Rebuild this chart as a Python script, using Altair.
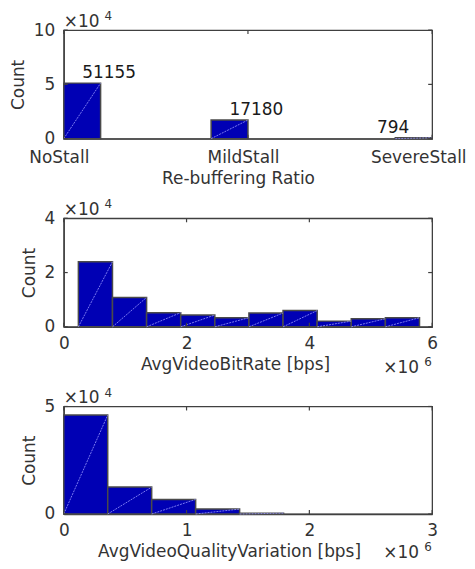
import json
import altair as alt
import pandas as pd

# ---------------- data ----------------
stall_categories = ["NoStall", "MildStall", "SevereStall"]
stall_counts = [51155, 17180, 794]

bitrate_counts = [24000, 10840, 5230, 4340, 3360, 5080, 5980, 2100, 2990, 3360]
bitrate_bin_start = 238000
bitrate_bin_width = 555600

qv_counts = [46000, 12500, 6800, 2300, 400]
qv_bin_start = 0
qv_bin_width = 358000

stall_y_ticks = [0, 50000, 100000]
bitrate_x_ticks = [0, 2e6, 4e6, 6e6]
bitrate_y_ticks = [0, 20000, 40000]
qv_x_ticks = [0, 1e6, 2e6, 3e6]
qv_y_ticks = [0, 50000]

FONT = "DejaVu Sans"
FS = 17
TXT = "#333333"
FILL = "#0000b4"
EDGE = "#4a4a4a"
W = 370


def hist_df(counts, start, width):
    rows = []
    for i, c in enumerate(counts):
        x0 = start + i * width
        rows.append({"x0": x0, "x1": x0 + width, "count": c, "zero": 0})
    return pd.DataFrame(rows)


def panel(df, H, xdom, ydom, xticks, yticks, xlabel_expr, ylabel_expr,
          xtitle, title_x, x_exp=None, label_offset=0, x_label_pad=9,
          title_pad=4, exp_y=44, extra=None):
    xs = alt.Scale(domain=xdom, nice=False, zero=False)
    ys = alt.Scale(domain=ydom, nice=False, zero=False)
    xa = alt.Axis(values=xticks, labelExpr=xlabel_expr, ticks=False, grid=False,
                  title=xtitle, labelPadding=x_label_pad, titlePadding=title_pad,
                  titleX=title_x, labelOffset=label_offset, labelFlush=False)
    ya = alt.Axis(values=yticks, labelExpr=ylabel_expr, ticks=False, grid=False,
                  title="Count", labelPadding=9, titlePadding=6, labelFlush=False)

    def X(f):
        return alt.X(f, scale=xs, axis=xa)

    def Y(f):
        return alt.Y(f, scale=ys, axis=ya)

    bars = alt.Chart(df).mark_rect(fill=FILL, stroke=EDGE, strokeWidth=1.5).encode(
        x=X("x0:Q"), x2="x1:Q", y=Y("count:Q"), y2="zero:Q",
    )
    diag = alt.Chart(df).mark_rule(color="#9a9aff", strokeWidth=0.8, strokeDash=[2, 1]).encode(
        x=X("x0:Q"), x2="x1:Q", y=Y("zero:Q"), y2="count:Q",
    )
    ytk = pd.DataFrame({"v": yticks})
    xtk = pd.DataFrame({"v": xticks})
    tick_style = dict(color="#404040", strokeWidth=1.2)
    yl = alt.Chart(ytk).mark_rule(**tick_style).encode(
        y=Y("v:Q"), x=alt.value(0), x2=alt.value(4))
    yr = alt.Chart(ytk).mark_rule(**tick_style).encode(
        y=Y("v:Q"), x=alt.value(W - 4), x2=alt.value(W))
    xb = alt.Chart(xtk).mark_rule(**tick_style).encode(
        x=X("v:Q"), y=alt.value(H), y2=alt.value(H - 4))
    xt = alt.Chart(xtk).mark_rule(**tick_style).encode(
        x=X("v:Q"), y=alt.value(0), y2=alt.value(4))
    one = pd.DataFrame({"t": ["×10"], "e": ["4"]})
    ex1 = alt.Chart(one).mark_text(align="left", baseline="alphabetic", font=FONT,
                                   fontSize=FS, color=TXT).encode(
        x=alt.value(0), y=alt.value(-3), text="t:N")
    ex2 = alt.Chart(one).mark_text(align="left", baseline="alphabetic", font=FONT,
                                   fontSize=12, color=TXT).encode(
        x=alt.value(41), y=alt.value(-10), text="e:N")
    layers = [bars, diag, yl, yr, xb, xt, ex1, ex2]
    if x_exp is not None:
        onex = pd.DataFrame({"t": ["×10"], "e": [x_exp]})
        layers.append(alt.Chart(onex).mark_text(align="left", baseline="alphabetic", font=FONT,
                                                fontSize=FS, color=TXT).encode(
            x=alt.value(321), y=alt.value(H + exp_y), text="t:N"))
        layers.append(alt.Chart(onex).mark_text(align="left", baseline="alphabetic", font=FONT,
                                                fontSize=12, color=TXT).encode(
            x=alt.value(362), y=alt.value(H + exp_y - 7), text="e:N"))
    if extra is not None:
        layers.append(extra(X, Y))
    return alt.layer(*layers).properties(width=W, height=H)


# Panel 1 (categorical counts)
rows = []
for i, (c, n) in enumerate(zip(stall_categories, stall_counts)):
    x0 = max(i - 0.2, 0)
    rows.append({"x0": x0, "x1": x0 + 0.2, "count": n, "zero": 0,
                 "lx": 0.1 + 0.8 * i, "cat": c})
df1 = pd.DataFrame(rows)
cat_expr = json.dumps(stall_categories) + "[datum.value]"


def labels1(X, Y):
    return alt.Chart(df1).mark_text(align="left", baseline="alphabetic", dy=-5,
                                    font=FONT, fontSize=FS, color="#1a1a1a").encode(
        x=X("lx:Q"), y=Y("count:Q"), text=alt.Text("count:Q", format="d"))


last_offset = {"condition": {"test": "datum.value == 2", "value": -14}, "value": -5}

p1 = panel(df1, 109, [0, 2], [0, 100000], [0, 1, 2], stall_y_ticks, cat_expr,
           "format(datum.value/10000, 'd')", "Re-buffering Ratio", 175,
           label_offset=last_offset, x_label_pad=11, title_pad=5, extra=labels1)

df2 = hist_df(bitrate_counts, bitrate_bin_start, bitrate_bin_width)
p2 = panel(df2, 109, [0, 6e6], [0, 40000], bitrate_x_ticks, bitrate_y_ticks,
           "format(datum.value/1e6, 'd')", "format(datum.value/10000, 'd')",
           "AvgVideoBitRate [bps]", 172, x_exp="6", title_pad=5, exp_y=46)

df3 = hist_df(qv_counts, qv_bin_start, qv_bin_width)
p3 = panel(df3, 108, [0, 3e6], [0, 50000], qv_x_ticks, qv_y_ticks,
           "format(datum.value/1e6, 'd')", "format(datum.value/10000, 'd')",
           "AvgVideoQualityVariation [bps]", 166, x_exp="6", title_pad=5, exp_y=44)

chart = alt.vconcat(p1, p2, p3, spacing=80, bounds="flush").properties(
    padding=0
).configure_view(
    stroke="#404040", strokeWidth=1.3
).configure_axis(
    labelFont=FONT, labelFontSize=FS, labelColor=TXT,
    titleFont=FONT, titleFontSize=FS, titleColor=TXT, titleFontWeight="normal",
    domainColor="#404040", domainWidth=1.3,
)

chart.save("out.html", embed_options={"renderer": "svg", "actions": False})
